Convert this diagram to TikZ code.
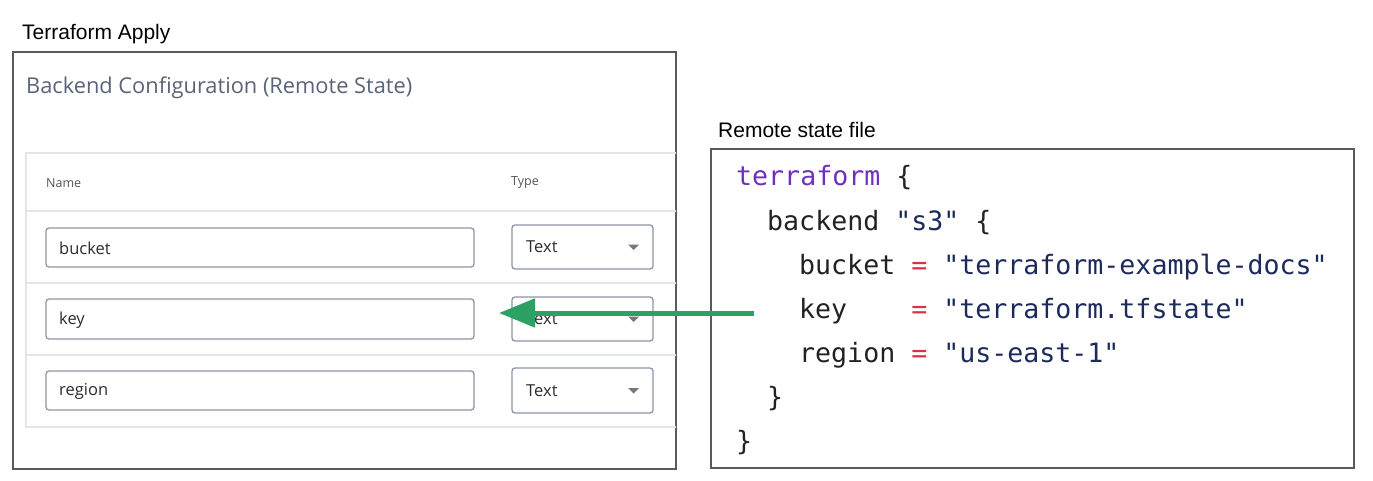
\documentclass[tikz,border=0pt]{standalone}
\usepackage{fontspec}
\setmainfont{Liberation Sans}
\newfontfamily\uifont{Open Sans}
\newfontfamily\codefont{DejaVu Sans Mono}
\usetikzlibrary{arrows.meta}
\definecolor{framegray}{RGB}{90,90,90}
\definecolor{tablegray}{RGB}{225,230,236}
\definecolor{fieldgray}{RGB}{140,148,168}
\definecolor{titlegray}{RGB}{90,100,120}
\definecolor{labelgray}{RGB}{85,85,85}
\definecolor{fieldtext}{RGB}{45,45,45}
\definecolor{arrowgreen}{RGB}{45,160,100}
\definecolor{kwpurple}{RGB}{111,49,189}
\definecolor{strnavy}{RGB}{28,42,92}
\definecolor{eqred}{RGB}{214,50,72}
\definecolor{codetext}{RGB}{34,34,34}
\tikzset{
  caption/.style={anchor=base west, inner sep=0pt, font=\fontsize{21}{25}\selectfont, text=black},
  panel/.style={draw=framegray, line width=1.4pt},
  tableline/.style={draw=tablegray, line width=1.2pt},
  field/.style={draw=fieldgray, line width=1.3pt, rounded corners=3pt, fill=white},
  fieldlabel/.style={anchor=west, inner sep=0pt, font=\uifont\fontsize{16.5}{20}\selectfont, text=fieldtext},
  colhead/.style={anchor=west, inner sep=0pt, font=\uifont\fontsize{12.5}{16}\selectfont, text=labelgray},
  codeline/.style={anchor=base west, inner sep=0pt, font=\codefont\fontsize{26.6}{30}\selectfont, text=codetext},
  flow/.style={draw=arrowgreen, line width=5pt, -{Triangle[length=36pt, width=28pt]}},
}
\newcommand{\kw}[1]{\textcolor{kwpurple}{#1}}
\newcommand{\str}[1]{\textcolor{strnavy}{#1}}
\newcommand{\eq}{\textcolor{eqred}{=}}
\begin{document}
\begin{tikzpicture}[x=1pt, y=-1pt]
\useasboundingbox (0,0) rectangle (1373,481);
\fill[white] (0,0) rectangle (1373,481);

% left panel
\node[caption] (applytitle) at (22,40) {Terraform Apply};
\draw[panel] (13,52) rectangle (676,469);
\node[anchor=west, inner sep=0pt, font=\uifont\fontsize{21.8}{26}\selectfont, text=titlegray] (backendtitle) at (26,88) {Backend Configuration (Remote State)};

% table
\draw[tableline] (676,153) -- (26,153) -- (26,427) -- (676,427);
\draw[tableline] (26,211) -- (676,211);
\draw[tableline] (26,283) -- (676,283);
\draw[tableline] (26,355) -- (676,355);
\node[colhead] (namehead) at (46,183) {Name};
\node[colhead] (typehead) at (511,183) {Type};

% fields
\foreach \nm/\ya/\yb/\da/\db in {bucket/228/267/225/269, key/299/339/297/341, region/371/410/368/413}{
  \draw[field] (46,\ya) rectangle (474,\yb);
  \node[fieldlabel] (\nm label) at (59,{(\ya+\yb)/2+1}) {\nm};
  \draw[field] (512,\da) rectangle (653,\db);
  \node[fieldlabel] (\nm type) at (526,{(\da+\db)/2}) {Text};
  \fill[labelgray!80] (628,{(\da+\db)/2-2.5}) -- (639,{(\da+\db)/2-2.5}) -- (633.5,{(\da+\db)/2+3}) -- cycle;
}

% right panel
\node[caption] (remotetitle) at (718,138) {Remote state file};
\draw[panel] (711,149) rectangle (1354,468);
\node[codeline] (l1) at (736,186) {\kw{terraform} \{};
\node[codeline] (l2) at (767,230) {backend \str{"s3"} \{};
\node[codeline] (l3) at (799,274) {bucket \eq{} \str{"terraform-example-docs"}};
\node[codeline] (l4) at (799,318) {key\ \ \ \ \eq{} \str{"terraform.tfstate"}};
\node[codeline] (l5) at (799,362) {region \eq{} \str{"us-east-1"}};
\node[codeline] (l6) at (767,406) {\}};
\node[codeline] (l7) at (736,450) {\}};

% arrow
\coordinate (arrowstart) at (754,313);
\coordinate (arrowend) at (499,313);
\draw[flow] (arrowstart) -- (arrowend);
\end{tikzpicture}
\end{document}
